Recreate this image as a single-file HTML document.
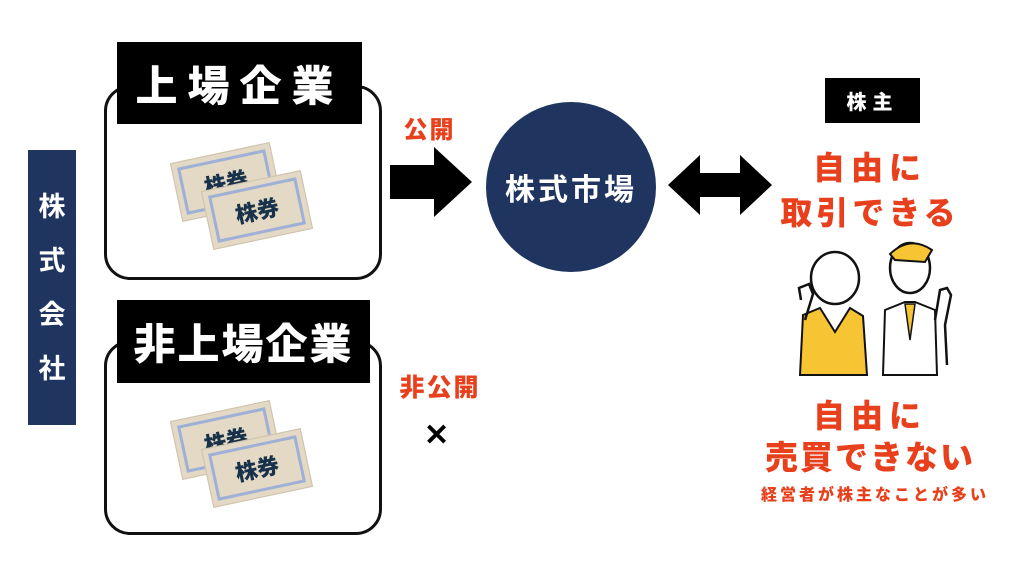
<!DOCTYPE html>
<html><head><meta charset="utf-8"><style>
body{margin:0;width:1024px;height:576px;background:#fff;position:relative;overflow:hidden;font-family:"Liberation Sans","Noto Sans CJK JP",sans-serif;font-weight:bold}
.a{position:absolute}
.box{position:absolute;border:3px solid #111;border-radius:26px;background:#fff}
.lbl{position:absolute;background:#000;color:#fff;display:flex;align-items:center;justify-content:center;font-size:42px;font-weight:900}
.red{color:#e8401c;position:absolute;text-align:center;font-weight:900}
.tk{position:absolute;width:100px;height:58px;background:#e3d9c4;border:1px solid #cfc3aa;color:#17324a;font-size:22px;font-weight:900;display:flex;align-items:center;justify-content:center;box-shadow:inset 0 0 0 5px #e3d9c4,inset 0 0 0 8px #9fb0d6}
</style></head><body>
<div class="a" style="left:28px;top:150px;width:48px;height:275px;background:#1f3560;color:#fff;font-size:27px;display:flex;flex-direction:column;align-items:center;justify-content:center;line-height:54px">株<br>式<br>会<br>社</div>

<div class="box" style="left:104px;top:85px;width:272px;height:189px"></div>
<div class="lbl" style="left:117px;top:42px;width:245px;height:82px;letter-spacing:10px">上場企業</div>
<div class="tk" style="left:175px;top:152px;transform:rotate(-12deg)">株券</div>
<div class="tk" style="left:206px;top:180px;transform:rotate(-12deg)">株券</div>

<div class="box" style="left:104px;top:340px;width:272px;height:189px"></div>
<div class="lbl" style="left:117px;top:300px;width:253px;height:83px;letter-spacing:2px">非上場企業</div>
<div class="tk" style="left:175px;top:410px;transform:rotate(-12deg)">株券</div>
<div class="tk" style="left:206px;top:438px;transform:rotate(-12deg)">株券</div>

<div class="red" style="left:392px;top:110px;width:75px;font-size:24px;letter-spacing:2px">公開</div>
<svg class="a" style="left:388px;top:145px" width="86" height="74"><polygon points="2,20 46,20 46,2 84,37 46,72 46,54 2,54" fill="#000"/></svg>

<div class="a" style="left:486px;top:102px;width:170px;height:170px;border-radius:50%;background:#1f3560;color:#fff;font-size:30px;display:flex;align-items:center;justify-content:center;letter-spacing:3px">株式市場</div>

<svg class="a" style="left:666px;top:153px" width="108" height="64"><polygon points="2,32 34,2 34,20 74,20 74,2 106,32 74,62 74,44 34,44 34,62" fill="#000"/></svg>

<div class="red" style="left:385px;top:368px;width:110px;font-size:25px;letter-spacing:2px">非公開</div>
<div class="a" style="left:424px;top:418px;font-size:30px;color:#000">✕</div>

<div class="lbl" style="left:825px;top:78px;width:95px;height:45px;font-size:20px;letter-spacing:6px">株主</div>
<div class="red" style="left:770px;top:143px;width:200px;font-size:32px;letter-spacing:6px">自由に</div>
<div class="red" style="left:765px;top:188px;width:210px;font-size:32px;letter-spacing:4px">取引できる</div>

<svg class="a" style="left:795px;top:240px" width="170" height="140">
<path d="M5,135 L8,75 L25,68 L40,92 L55,68 L68,76 L72,135Z" fill="#f7c534" stroke="#111" stroke-width="2"/>
<ellipse cx="40" cy="38" rx="24" ry="26" fill="#fff" stroke="#111" stroke-width="2.5"/>
<path d="M6,60 L4,48 L14,44 L18,54 L10,80" fill="none" stroke="#111" stroke-width="2.5"/>
<path d="M88,135 L90,70 L110,62 L120,62 L140,70 L142,135Z" fill="#fff" stroke="#111" stroke-width="2"/>
<path d="M110,64 L115,100 L120,64Z" fill="#f7c534" stroke="#111" stroke-width="1.5"/>
<ellipse cx="115" cy="28" rx="20" ry="25" fill="#fff" stroke="#111" stroke-width="2.5"/>
<path d="M95,14 Q115,-5 137,10 L130,22 L100,20Z" fill="#f7c534" stroke="#111" stroke-width="2"/>
<path d="M140,80 L145,50 L152,48 L156,55 L150,85 L152,125" fill="none" stroke="#111" stroke-width="2.5"/>
</svg>

<div class="red" style="left:770px;top:391px;width:200px;font-size:32px;letter-spacing:6px">自由に</div>
<div class="red" style="left:755px;top:431px;width:230px;font-size:33px;letter-spacing:2px">売買できない</div>
<div class="red" style="left:735px;top:481px;width:280px;font-size:16px;letter-spacing:3px">経営者が株主なことが多い</div>
</body></html>
